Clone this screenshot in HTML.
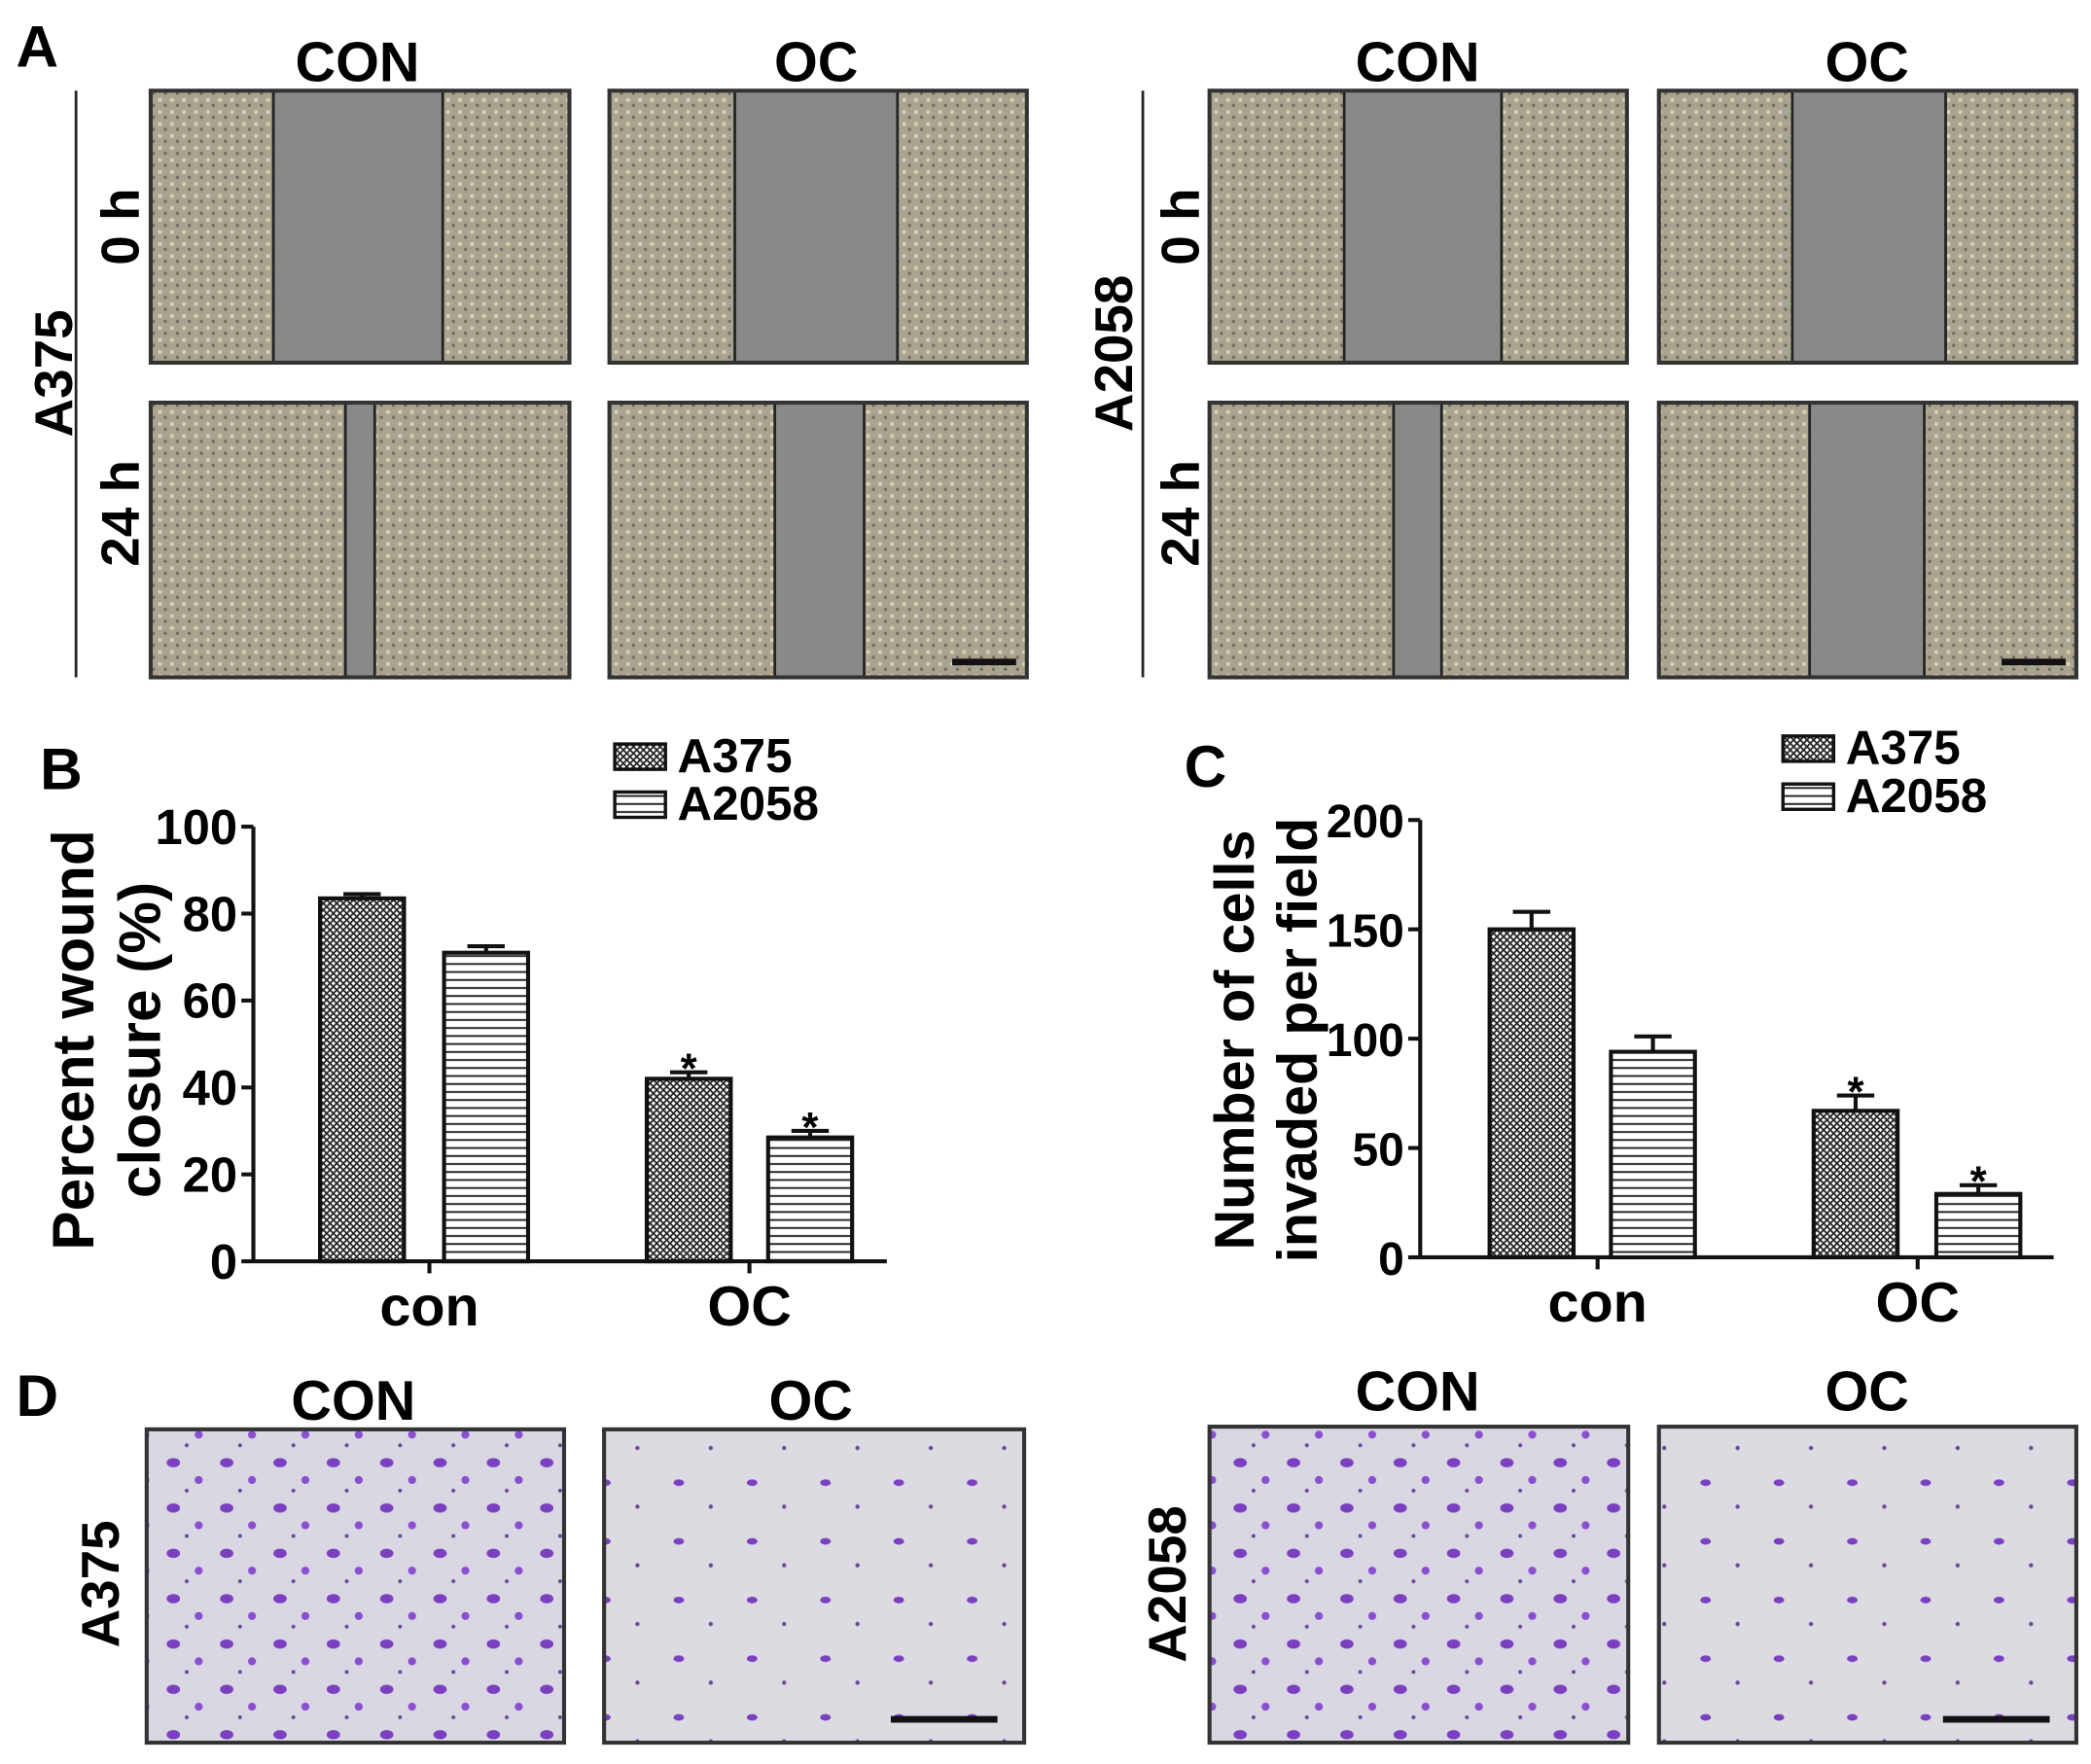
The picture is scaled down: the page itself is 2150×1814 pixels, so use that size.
<!DOCTYPE html>
<html><head><meta charset="utf-8"><style>
html,body{margin:0;padding:0;background:#fff;}
svg{display:block;font-family:"Liberation Sans",sans-serif;font-weight:bold;}
</style></head><body>
<svg id="fig" width="2150" height="1814" viewBox="0 0 1568 1323" preserveAspectRatio="none" xmlns="http://www.w3.org/2000/svg">
<defs>
<pattern id="hatch" width="5" height="5" patternUnits="userSpaceOnUse">
<rect width="5" height="5" fill="#fff"/><path d="M0 0L5 5M5 0L0 5" stroke="#222" stroke-width="1.3"/></pattern>
<pattern id="hlines" width="6" height="6" patternUnits="userSpaceOnUse">
<rect width="6" height="6" fill="#fff"/><path d="M0 3H6" stroke="#222" stroke-width="1.4"/></pattern>
<pattern id="cells" width="9" height="9" patternUnits="userSpaceOnUse">
<rect width="9" height="9" fill="#a9a48f"/><circle cx="3" cy="3" r="1.6" fill="#d8cfae"/><circle cx="7" cy="7" r="1.2" fill="#6f6c62"/></pattern>
<pattern id="purple" width="40" height="34" patternUnits="userSpaceOnUse">
<rect width="40" height="34" fill="#d9d7e2"/><ellipse cx="10" cy="9" rx="5" ry="3.5" fill="#7b3fc0"/><circle cx="29" cy="22" r="3" fill="#8a4fd0"/><circle cx="20" cy="30" r="1.5" fill="#6b4a9a"/></pattern>
<pattern id="purple2" width="55" height="44" patternUnits="userSpaceOnUse">
<rect width="55" height="44" fill="#dcdbe2"/><ellipse cx="14" cy="12" rx="4" ry="2.5" fill="#7b3fc0"/><circle cx="38" cy="30" r="1.6" fill="#6b4a9a"/></pattern>
</defs>
<g id="panelA"></g>
<g id="chartB"></g>
<g id="chartC"></g>
<g id="panelD"></g>
</svg>
<script>
// Chart B data
const categoriesB = ["con","OC"];
const seriesNames = ["A375","A2058"];
const valuesB_A375 = [83.5, 42];
const valuesB_A2058 = [71, 28.5];
const errB_A375 = [1, 1.5];
const errB_A2058 = [1.5, 1.5];
const sigB = [false, true];
const ticksB = [0,20,40,60,80,100];
// Chart C data
const categoriesC = ["con","OC"];
const valuesC_A375 = [150, 67];
const valuesC_A2058 = [94, 29];
const errC_A375 = [8, 7];
const errC_A2058 = [7, 4];
const sigC = [false, true];
const ticksC = [0,50,100,150,200];

const NS="http://www.w3.org/2000/svg";
function mk(parent,tag,attrs,text){const e=document.createElementNS(NS,tag);for(const k in attrs)e.setAttribute(k,attrs[k]);if(text!==undefined)e.textContent=text;parent.appendChild(e);return e;}

// Panel A
const A=document.getElementById('panelA');
let t=mk(A,'text',{x:12,y:50,'font-size':44},'A');


const aTitles=[[268,'CON'],[612,'OC'],[1063,'CON'],[1400,'OC']];
aTitles.forEach(([x,s])=>{const e=mk(A,'text',{x:x,y:61,'font-size':42,'text-anchor':'middle'},s);

});
const imgs=[[113,427,68,272,205,332],[457,770,68,272,551,673],[113,427,302,508,259,281],[457,770,302,508,581,648],
[907,1220,68,272,1008,1126],[1244,1557,68,272,1344,1459],[907,1220,302,508,1045,1081],[1244,1557,302,508,1357,1443]];
imgs.forEach((m,i)=>{const g=mk(A,'g',{});


mk(g,'rect',{x:m[0],y:m[2],width:m[1]-m[0],height:m[3]-m[2],fill:'url(#cells)'});
mk(g,'rect',{x:m[4],y:m[2],width:m[5]-m[4],height:m[3]-m[2],fill:'#898987',stroke:'#222','stroke-width':2});
mk(g,'rect',{x:m[0],y:m[2],width:m[1]-m[0],height:m[3]-m[2],fill:'none',stroke:'#333','stroke-width':3});
if(i==3||i==7){mk(g,'rect',{x:m[1]-56,y:m[3]-14,width:48,height:5,fill:'#111'});}
});
[[57,'A375',40,280,'0 h',90,170,'24 h',90,385],[857,'A2058',835,265,'0 h',885,170,'24 h',885,385]].forEach(r=>{
const l=mk(A,'line',{x1:r[0],y1:68,x2:r[0],y2:508,stroke:'#222','stroke-width':2});


[[r[1],r[2],r[3]],[r[4],r[5],r[6]],[r[7],r[8],r[9]]].forEach(([s,x,y])=>{
const e=mk(A,'text',{x:x,y:y,'font-size':40,'text-anchor':'middle',transform:`rotate(-90 ${x} ${y})`,dy:14},s);

});
});

function barChart(gid,label,lx,ly,ax,ay0,ay1,xEnd,ymax,ticks,cats,v1,v2,e1,e2,sig,barX,catX,legX,legY,titles,titleX,titleY,titleFs,tickFs){
const G=document.getElementById(gid);
const y=v=>ay0-(v/ymax)*(ay0-ay1);
let e=mk(G,'text',{x:lx,y:ly,'font-size':44},label);


e=mk(G,'line',{x1:ax,y1:ay1,x2:ax,y2:ay0,stroke:'#111','stroke-width':3});


e=mk(G,'line',{x1:ax,y1:ay0,x2:xEnd,y2:ay0,stroke:'#111','stroke-width':3});


ticks.forEach(v=>{mk(G,'line',{x1:ax-9,y1:y(v),x2:ax,y2:y(v),stroke:'#111','stroke-width':3});
const tt=mk(G,'text',{x:ax-12,y:y(v)+13,'font-size':tickFs,'text-anchor':'end'},v);

});
cats.forEach((c,i)=>{const cx=catX[i];
mk(G,'line',{x1:cx,y1:ay0,x2:cx,y2:ay0+9,stroke:'#111','stroke-width':3});
const tt=mk(G,'text',{x:cx,y:ay0+48,'font-size':42,'text-anchor':'middle'},c);


[[v1,e1,'url(#hatch)',0],[v2,e2,'url(#hlines)',1]].forEach(([vals,errs,f,s])=>{
const bx=barX[i][s],w=63,cxb=bx+w/2;
const eb=mk(G,'line',{x1:cxb,y1:y(vals[i]),x2:cxb,y2:y(vals[i]+errs[i]),stroke:'#111','stroke-width':3});


mk(G,'line',{x1:cxb-14,y1:y(vals[i]+errs[i]),x2:cxb+14,y2:y(vals[i]+errs[i]),stroke:'#111','stroke-width':3});
const b=mk(G,'rect',{x:bx,y:y(vals[i]),width:w,height:ay0-y(vals[i]),fill:f,stroke:'#111','stroke-width':3});


if(sig[i]){const st=mk(G,'text',{x:cxb,y:y(vals[i]+errs[i])+8,'font-size':32,'text-anchor':'middle'},'*');

}
});});
seriesNames.forEach((n,s)=>{const g=mk(G,'g',{});


mk(g,'rect',{x:legX,y:legY+s*36,width:38,height:19,fill:s?'url(#hlines)':'url(#hatch)',stroke:'#111','stroke-width':2.5});
mk(g,'text',{x:legX+47,y:legY+s*36+21,'font-size':36},n);});
titles.forEach((s,k)=>{const x=titleX[k];const tt=mk(G,'text',{x:x,y:titleY,'font-size':titleFs,'text-anchor':'middle',transform:`rotate(-90 ${x} ${titleY})`},s);

});
}
barChart('chartB','B',30,592,190,946,620,665,100,ticksB,categoriesB,valuesB_A375,valuesB_A2058,errB_A375,errB_A2058,sigB,
[[240,333],[485,576]],[322,562],461,558,['Percent wound','closure (%)'],[70,120],780,44,37);
barChart('chartC','C',888,590,1065,943,615,1540,200,ticksC,categoriesC,valuesC_A375,valuesC_A2058,errC_A375,errC_A2058,sigC,
[[1117,1208],[1360,1452]],[1198,1438],1337,552,['Number of cells','invaded per field'],[940,987],780,42,35);

// Panel D
const D=document.getElementById('panelD');
t=mk(D,'text',{x:12,y:1062,'font-size':44},'D');


[[265,1065,'CON'],[608,1065,'OC'],[1063,1058,'CON'],[1400,1058,'OC']].forEach(([x,yy,s])=>{const e=mk(D,'text',{x:x,y:yy,'font-size':42,'text-anchor':'middle'},s);

});
[[110,423,1072,1307,'purple'],[453,768,1072,1307,'purple2'],[907,1221,1070,1307,'purple'],[1244,1557,1070,1307,'purple2']].forEach((m,i)=>{
const r=mk(D,'rect',{x:m[0],y:m[2],width:m[1]-m[0],height:m[3]-m[2],fill:'url(#'+m[4]+')',stroke:'#333','stroke-width':3});


if(i==1||i==3)mk(D,'rect',{x:m[1]-100,y:m[3]-20,width:80,height:5,fill:'#111'});});
[[75,1188,'A375'],[875,1188,'A2058']].forEach(([x,yy,s])=>{const e=mk(D,'text',{x:x,y:yy,'font-size':40,'text-anchor':'middle',transform:`rotate(-90 ${x} ${yy})`,dy:14},s);

});
</script>
</body></html>
